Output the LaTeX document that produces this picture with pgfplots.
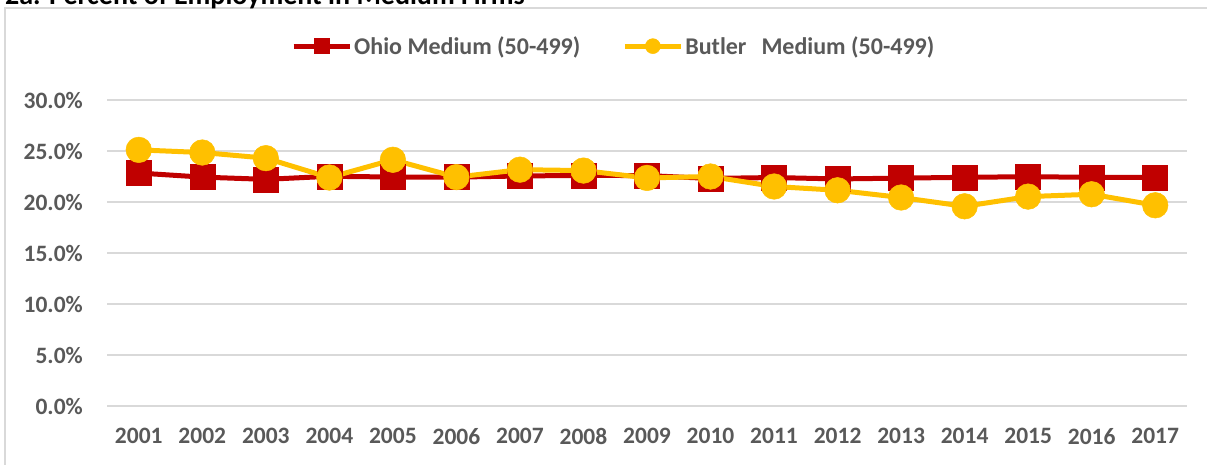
\documentclass[border=0pt]{standalone}
\usepackage{pgfplots}
\pgfplotsset{compat=1.18}
\usepackage{fontspec}
\setmainfont{Carlito}
\definecolor{ohiored}{HTML}{C00000}
\definecolor{butleryel}{HTML}{FFC000}
\definecolor{txtgray}{HTML}{595959}
\definecolor{gridgray}{HTML}{D9D9D9}

\begin{document}
\begin{tikzpicture}
% chart frame and the title that is cut off at the top
\begin{scope}
\clip (0pt,0pt) rectangle (1207pt,464pt);
\draw[gridgray, line width=2pt] (5pt,-10pt) -- (5pt,456pt) -- (1220pt,456pt);
\node[anchor=base west, inner sep=0pt, font=\fontsize{28}{32}\selectfont\bfseries]
  at (5pt,459.5pt) {2a. Percent of Employment in Medium Firms};
\end{scope}
\begin{axis}[
  at={(107pt,58pt)}, anchor=south west,
  scale only axis, width=1080pt, height=306pt,
  xmin=-0.5, xmax=16.5, ymin=0, ymax=30,
  xtick={0,...,16},
  xticklabels={2001,2002,2003,2004,2005,2006,2007,2008,2009,2010,2011,2012,2013,2014,2015,2016,2017},
  ytick={0,5,...,30},
  yticklabel={\pgfmathprintnumber[fixed,fixed zerofill,precision=1]{\tick}\%},
  /pgf/number format/assume math mode=true,
  ticklabel style={font=\fontsize{23.5}{27}\selectfont\bfseries, text=txtgray, inner sep=0pt},
  xticklabel style={anchor=north, yshift=-22pt},
  yticklabel style={anchor=east, xshift=-24pt},
  major tick length=0pt,
  axis line style={draw=none},
  ymajorgrids, grid style={gridgray, line width=2pt},
  legend columns=2,
  legend style={at={(axis description cs:0.1704,1.176)}, anchor=west, draw=none, fill=none,
    inner sep=0pt, font=\fontsize{24}{28}\selectfont\bfseries, text=txtgray,
    nodes={inner sep=2pt},
    /tikz/every even column/.append style={column sep=40pt}},
  legend image code/.code={\draw[mark repeat=2,mark phase=2,#1]
    plot coordinates {(0pt,0pt) (28pt,0pt) (56pt,0pt)};},
]
\addplot[ohiored, line width=5pt, mark=square*, mark size=12.5pt,
  mark options={line width=0.5pt},
  legend image post style={mark size=7.5pt}] coordinates {
(0,22.84) (1,22.44) (2,22.22) (3,22.52) (4,22.45) (5,22.44) (6,22.55) (7,22.61) (8,22.59)
(9,22.31) (10,22.40) (11,22.26) (12,22.34) (13,22.42) (14,22.48) (15,22.42) (16,22.42)};
\addlegendentry{Ohio Medium (50-499)}
\addplot[butleryel, line width=5pt, mark=*, mark size=12.8pt,
  mark options={line width=0.5pt},
  legend image post style={mark size=7.5pt}] coordinates {
(0,25.11) (1,24.85) (2,24.30) (3,22.40) (4,24.14) (5,22.44) (6,23.17) (7,23.08) (8,22.36)
(9,22.50) (10,21.52) (11,21.15) (12,20.44) (13,19.58) (14,20.53) (15,20.76) (16,19.68)};
\addlegendentry{Butler\hspace{15pt}Medium (50-499)}
\end{axis}
\pgfresetboundingbox
\useasboundingbox (0pt,0pt) rectangle (1207pt,464pt);
\end{tikzpicture}
\end{document}
